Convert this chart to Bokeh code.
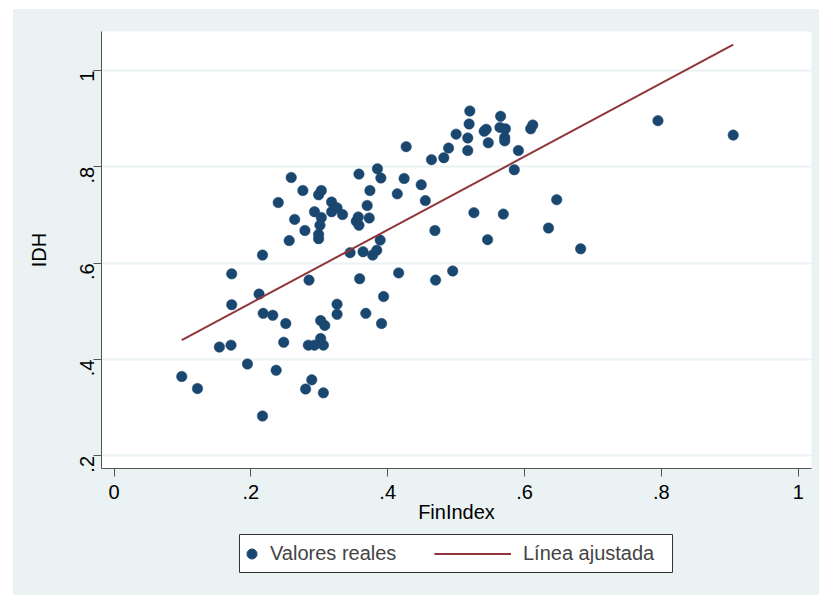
import math
from bokeh.plotting import figure
from bokeh.models import FixedTicker, Legend, LegendItem, Range1d, BoxAnnotation, Spacer
from bokeh.layouts import column, row
from bokeh.embed import file_html
from bokeh.resources import INLINE

# ---- data ----
fin_index = [0.099, 0.122, 0.154, 0.171, 0.172, 0.172, 0.195, 0.212, 0.217, 0.217,
             0.218, 0.232, 0.237, 0.240, 0.248, 0.251, 0.256, 0.259, 0.264, 0.276,
             0.279, 0.280, 0.285, 0.284, 0.289, 0.293, 0.293, 0.299, 0.299, 0.299,
             0.303, 0.302, 0.302, 0.306, 0.306, 0.308, 0.303, 0.301, 0.318, 0.318,
             0.326, 0.326, 0.326, 0.334, 0.345, 0.354, 0.357, 0.358, 0.358, 0.359,
             0.364, 0.368, 0.370, 0.374, 0.373, 0.378, 0.384, 0.385, 0.389, 0.390,
             0.391, 0.394, 0.414, 0.416, 0.424, 0.427, 0.449, 0.455, 0.464, 0.469,
             0.470, 0.482, 0.489, 0.495, 0.500, 0.517, 0.517, 0.520, 0.519, 0.526,
             0.541, 0.544, 0.546, 0.547, 0.564, 0.565, 0.569, 0.572, 0.571, 0.571,
             0.585, 0.591, 0.609, 0.612, 0.635, 0.647, 0.682, 0.795, 0.905]
idh = [0.365, 0.340, 0.426, 0.430, 0.578, 0.514, 0.391, 0.536, 0.617, 0.283,
       0.496, 0.492, 0.378, 0.726, 0.436, 0.475, 0.647, 0.778, 0.691, 0.751,
       0.668, 0.339, 0.565, 0.430, 0.358, 0.707, 0.430, 0.742, 0.660, 0.651,
       0.751, 0.481, 0.444, 0.430, 0.331, 0.471, 0.695, 0.679, 0.727, 0.707,
       0.715, 0.515, 0.494, 0.701, 0.622, 0.687, 0.696, 0.679, 0.785, 0.568,
       0.624, 0.496, 0.720, 0.751, 0.694, 0.617, 0.627, 0.796, 0.648, 0.777,
       0.475, 0.531, 0.744, 0.580, 0.776, 0.842, 0.763, 0.730, 0.815, 0.668,
       0.565, 0.819, 0.839, 0.584, 0.868, 0.860, 0.834, 0.916, 0.889, 0.705,
       0.874, 0.878, 0.649, 0.850, 0.882, 0.905, 0.702, 0.879, 0.861, 0.854,
       0.794, 0.834, 0.879, 0.887, 0.673, 0.732, 0.630, 0.896, 0.866]

fit_intercept = 0.365
fit_slope = 0.761

x_ticks = [0, 0.2, 0.4, 0.6, 0.8, 1.0]
x_tick_labels = ["0", ".2", ".4", ".6", ".8", "1"]
y_ticks = [0.2, 0.4, 0.6, 0.8, 1.0]
y_tick_labels = [".2", ".4", ".6", ".8", "1"]

series_labels = ["Valores reales", "Línea ajustada"]
x_title = "FinIndex"
y_title = "IDH"

# ---- styles ----
BG = "#EAF2F3"
NAVY = "#1A476F"
MAROON = "#90353B"
AXIS = "#555555"
FONT = "Liberation Sans"
FS = "20px"

fit_x = [min(fin_index), max(fin_index)]
fit_y = [fit_intercept + fit_slope * v for v in fit_x]

p = figure(width=806, height=516,
           x_range=Range1d(-0.0183, 1.0194), y_range=Range1d(0.174, 1.081),
           output_backend="svg", toolbar_location=None,
           min_border_left=88, min_border_right=8,
           min_border_top=22, min_border_bottom=57)
p.border_fill_color = BG
p.background_fill_color = "white"
p.outline_line_color = None

r_pts = p.scatter(fin_index, idh, size=10.5, fill_color=NAVY, line_color=NAVY, line_width=0.5)
r_fit = p.line(fit_x, fit_y, line_color=MAROON, line_width=2)

p.xaxis.ticker = FixedTicker(ticks=x_ticks)
p.xaxis.major_label_overrides = {t: l for t, l in zip(x_ticks, x_tick_labels)}
p.yaxis.ticker = FixedTicker(ticks=y_ticks)
p.yaxis.major_label_overrides = {t: l for t, l in zip(y_ticks, y_tick_labels)}
p.yaxis.major_label_orientation = math.pi / 2

p.xaxis.axis_label = x_title
p.yaxis.axis_label = y_title

for ax in (p.xaxis[0], p.yaxis[0]):
    ax.axis_line_color = AXIS
    ax.axis_line_width = 1
    ax.major_tick_line_color = AXIS
    ax.major_tick_out = 8
    ax.major_tick_in = 0
    ax.minor_tick_line_color = None
    ax.major_label_text_font = FONT
    ax.major_label_text_font_size = FS
    ax.major_label_text_color = "black"
    ax.axis_label_text_font = FONT
    ax.axis_label_text_font_size = FS
    ax.axis_label_text_font_style = "normal"
    ax.axis_label_text_color = "black"
p.xaxis.major_label_standoff = 8
p.xaxis.axis_label_standoff = -1
p.yaxis.major_label_standoff = 6
p.yaxis.axis_label_standoff = 21

p.xgrid.visible = False
p.ygrid.ticker = FixedTicker(ticks=y_ticks)
p.ygrid.grid_line_color = BG
p.ygrid.grid_line_width = 2

# ---- legend panel (same horizontal frame as the plot) ----
lg = figure(width=806, height=70, x_range=Range1d(0, 1), y_range=Range1d(0, 1),
            output_backend="svg", toolbar_location=None,
            x_axis_location=None, y_axis_location=None,
            min_border_left=88, min_border_right=8,
            min_border_top=0, min_border_bottom=0)
lg.grid.visible = False
lg.border_fill_color = BG
lg.background_fill_color = BG
lg.outline_line_color = None

proxy_pts = lg.scatter(fin_index, idh, size=10, fill_color=NAVY, line_color=NAVY, visible=False)
proxy_fit = lg.line(fit_x, fit_y, line_color=MAROON, line_width=2, visible=False)

legend_box = BoxAnnotation(left=138, right=571, bottom=23, top=61,
                           left_units="screen", right_units="screen",
                           top_units="screen", bottom_units="screen",
                           fill_color="white", fill_alpha=1.0,
                           line_color="#333333", line_width=1, line_alpha=1.0,
                           level="underlay")
lg.add_layout(legend_box)

common = dict(orientation="horizontal", padding=0, margin=0,
              border_line_color=None, background_fill_alpha=0,
              inactive_fill_alpha=0,
              label_text_font=FONT, label_text_font_size=FS,
              glyph_height=25, label_height=25)
legA = Legend(items=[LegendItem(label=series_labels[0], renderers=[proxy_pts])],
              location=(138, 29), glyph_width=25, label_standoff=6, **common)
legB = Legend(items=[LegendItem(label=series_labels[1], renderers=[proxy_fit])],
              location=(333, 29), glyph_width=77, label_standoff=12, **common)
lg.add_layout(legA)
lg.add_layout(legB)

inner = column(p, lg, spacing=0, styles={"background-color": BG})
layout = column(Spacer(height=9), row(Spacer(width=13), inner, spacing=0), spacing=0)

open("out.html", "w").write(file_html(layout, INLINE))
